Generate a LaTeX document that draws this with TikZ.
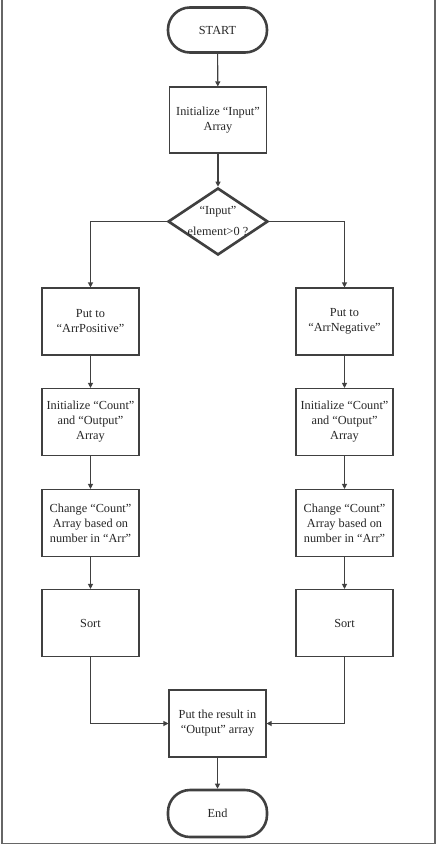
\documentclass[tikz,border=0pt]{standalone}
\usepackage{fontspec}
\setmainfont{Liberation Serif}
\usetikzlibrary{arrows.meta,shapes.geometric}
\definecolor{ln}{HTML}{404040}
\tikzset{
  x=1pt,y=-1pt,
  every node/.style={font=\fontsize{12.3}{15}\selectfont, text=black!85, align=center},
  box/.style={draw=ln, line width=1.1pt, minimum width=97pt, minimum height=67pt, inner sep=1pt},
  term/.style={draw=ln, line width=2.6pt, rounded corners=22pt, minimum width=99pt, minimum height=45pt},
  dec/.style={draw=ln, line width=2.6pt, diamond, minimum width=100pt, minimum height=67pt, inner sep=0pt},
  arr/.style={draw=ln, line width=1.1pt, -{Triangle[length=5pt,width=5pt]}},
  frame/.style={draw=black!60, line width=1.2pt}
}
\begin{document}
\begin{tikzpicture}
\useasboundingbox (0,0) rectangle (437,845);
\draw[frame] (2,0) -- (2,843.5) -- (435,843.5) -- (435,0);
\node[term] (start) at (217.5,30) {START};
\node[box, minimum height=66pt] (init) at (218,120) {Initialize ``Input''\\Array};
\node[dec] (dec) at (218,221.5) {};
\node at (218,212) {``Input''};
\node at (218,231) {element>0 ?};
\node[box] (pl) at (90.5,321.5) {Put to\\``ArrPositive''};
\node[box] (pr) at (344.5,321.5) {Put to\\``ArrNegative''};
\node[box] (il) at (90.5,422) {Initialize ``Count''\\and ``Output''\\Array};
\node[box] (ir) at (344.5,422) {Initialize ``Count''\\and ``Output''\\Array};
\node[box] (cl) at (90.5,523) {Change ``Count''\\Array based on\\number in ``Arr''};
\node[box] (cr) at (344.5,523) {Change ``Count''\\Array based on\\number in ``Arr''};
\node[box] (sl) at (90.5,623) {Sort};
\node[box] (sr) at (344.5,623) {Sort};
\node[box] (out) at (217.5,723.5) {Put the result in\\``Output'' array};
\node[term, minimum height=47pt] (end) at (217.5,813.5) {End};
\draw[arr] (start) -- (init);
\draw[arr] (init) -- (dec);
\draw[arr] (dec.west) -| (pl.north);
\draw[arr] (dec.east) -| (pr.north);
\draw[arr] (pl) -- (il);
\draw[arr] (il) -- (cl);
\draw[arr] (cl) -- (sl);
\draw[arr] (pr) -- (ir);
\draw[arr] (ir) -- (cr);
\draw[arr] (cr) -- (sr);
\draw[arr] (sl.south) |- (out.west);
\draw[arr] (sr.south) |- (out.east);
\draw[arr] (out) -- (end);
\end{tikzpicture}
\end{document}
